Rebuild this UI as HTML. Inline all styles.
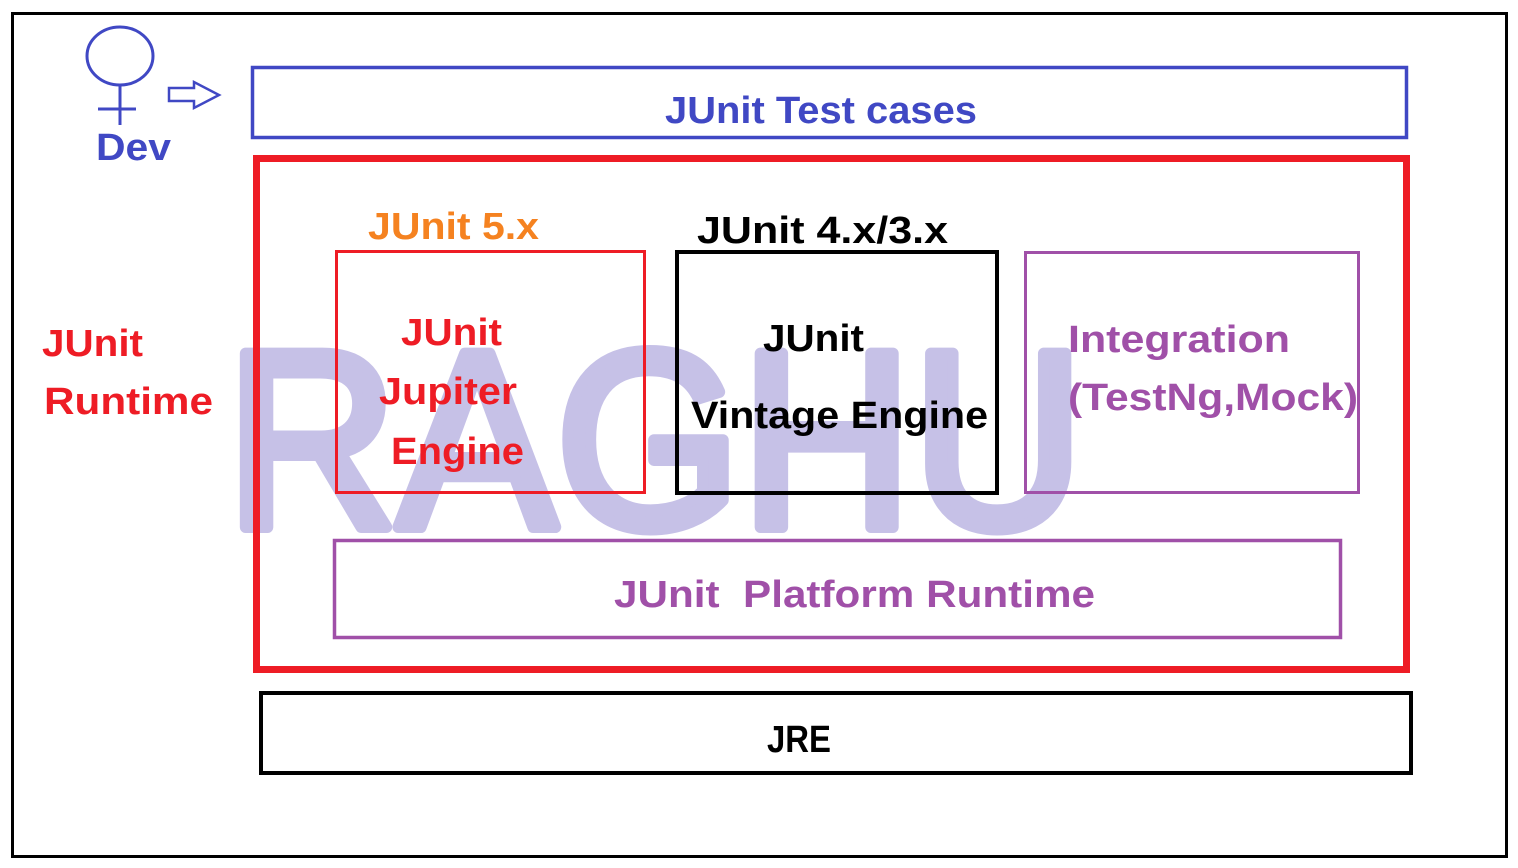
<!DOCTYPE html>
<html><head><meta charset="utf-8"><style>html,body{margin:0;padding:0;background:#fff;width:1518px;height:868px;overflow:hidden}</style></head>
<body>
<svg width="1518" height="868" xmlns="http://www.w3.org/2000/svg" font-family="Liberation Sans, sans-serif" font-weight="bold" font-size="38">
<rect x="0" y="0" width="1518" height="868" fill="#fff"/>
<text x="226" y="527" font-weight="normal" font-size="252" fill="#c6c1e7" stroke="#c6c1e7" stroke-width="12" stroke-linejoin="round" textLength="858" lengthAdjust="spacingAndGlyphs">RAGHU</text>
<rect x="12.5" y="13.5" width="1494" height="843" fill="none" stroke="#000" stroke-width="3"/>
<ellipse cx="120" cy="56" rx="33" ry="29" fill="none" stroke="#4048c4" stroke-width="3"/>
<line x1="120" y1="85" x2="120" y2="125" stroke="#4048c4" stroke-width="3"/>
<line x1="98" y1="109" x2="136" y2="109" stroke="#4048c4" stroke-width="3"/>
<path d="M169 88 H194 V82 L219 95 L194 108 V101 H169 Z" fill="none" stroke="#4048c4" stroke-width="2.5"/>
<text x="96" y="160" fill="#4048c4" textLength="75" lengthAdjust="spacingAndGlyphs">Dev</text>
<rect x="252.5" y="67.5" width="1154" height="70" fill="none" stroke="#4048c4" stroke-width="3.5"/>
<text x="665" y="123" fill="#4048c4" textLength="312" lengthAdjust="spacingAndGlyphs">JUnit Test cases</text>
<rect x="256.5" y="158.5" width="1150" height="511" fill="none" stroke="#ee1c25" stroke-width="7"/>
<text x="42" y="356" fill="#ee1c25" textLength="101" lengthAdjust="spacingAndGlyphs">JUnit</text>
<text x="44" y="414" fill="#ee1c25" textLength="169" lengthAdjust="spacingAndGlyphs">Runtime</text>
<text x="368" y="239" fill="#f58220" textLength="171" lengthAdjust="spacingAndGlyphs">JUnit 5.x</text>
<text x="697" y="243" fill="#000" textLength="251" lengthAdjust="spacingAndGlyphs">JUnit 4.x/3.x</text>
<rect x="336.5" y="251.5" width="308" height="241" fill="none" stroke="#ee1c25" stroke-width="3"/>
<rect x="677" y="252" width="320" height="241" fill="none" stroke="#000" stroke-width="4"/>
<rect x="1025.5" y="252.5" width="333" height="240" fill="none" stroke="#a050a8" stroke-width="3"/>
<text x="401" y="345" fill="#ee1c25" textLength="101" lengthAdjust="spacingAndGlyphs">JUnit</text>
<text x="379" y="404" fill="#ee1c25" textLength="138" lengthAdjust="spacingAndGlyphs">Jupiter</text>
<text x="391" y="464" fill="#ee1c25" textLength="133" lengthAdjust="spacingAndGlyphs">Engine</text>
<text x="763" y="351" fill="#000" textLength="101" lengthAdjust="spacingAndGlyphs">JUnit</text>
<text x="691" y="428" fill="#000" textLength="297" lengthAdjust="spacingAndGlyphs">Vintage Engine</text>
<text x="1068" y="352" fill="#a050a8" textLength="222" lengthAdjust="spacingAndGlyphs">Integration</text>
<text x="1068" y="410" fill="#a050a8" textLength="290" lengthAdjust="spacingAndGlyphs">(TestNg,Mock)</text>
<rect x="334.5" y="540.5" width="1006" height="97" fill="none" stroke="#a050a8" stroke-width="3.5"/>
<text x="614" y="607" fill="#a050a8" textLength="481" lengthAdjust="spacingAndGlyphs" xml:space="preserve">JUnit  Platform Runtime</text>
<rect x="261" y="693" width="1150" height="80" fill="none" stroke="#000" stroke-width="4"/>
<text x="767" y="752" fill="#000" textLength="64" lengthAdjust="spacingAndGlyphs">JRE</text>
</svg>
</body></html>
